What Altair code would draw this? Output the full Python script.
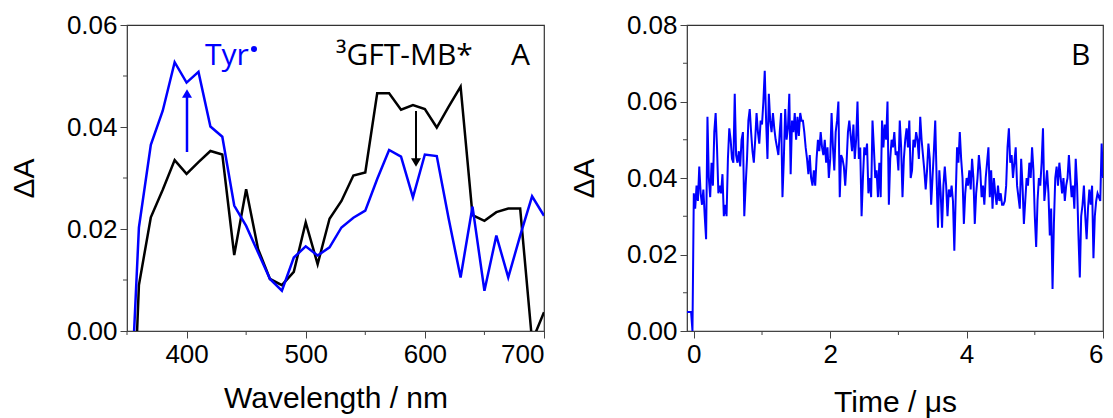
import altair as alt
import pandas as pd
import numpy as np

# ---------------- Panel A: transient spectra ----------------
wavelength = [350, 360, 370, 380, 390, 400, 410, 420, 430, 440, 450, 460,
              470, 480, 490, 500, 510, 520, 530, 540, 550, 560, 570, 580,
              590, 600, 610, 620, 630, 640, 650, 660, 670, 680, 690, 700]
gft_mb = [-0.05, 0.0090, 0.0223, 0.0277, 0.0335, 0.0308, 0.0331, 0.0353,
          0.0346, 0.0149, 0.0278, 0.0161, 0.0102, 0.0090, 0.0116, 0.0213,
          0.0131, 0.0220, 0.0255, 0.0305, 0.0311, 0.0466, 0.0466, 0.0434,
          0.0443, 0.0435, 0.0399, 0.0440, 0.0479, 0.0227, 0.0216, 0.0233,
          0.0240, 0.0240, -0.0020, 0.0037]
tyr = [-0.03, 0.0203, 0.0365, 0.0432, 0.0527, 0.0487, 0.0508, 0.0401,
       0.0381, 0.0246, 0.0206, 0.0154, 0.0102, 0.0079, 0.0144, 0.0166,
       0.0148, 0.0164, 0.0203, 0.0222, 0.0236, 0.0298, 0.0355, 0.0342,
       0.0262, 0.0346, 0.0343, 0.0220, 0.0105, 0.0244, 0.0079, 0.0187,
       0.0105, 0.0187, 0.0264, 0.0226]
xticks_A = [400, 500, 600, 700]
xminor_A = [350, 450, 550, 650]
yticks_A = [0, 0.02, 0.04, 0.06]
yminor_A = [0.01, 0.03, 0.05]

# ---------------- Panel B: kinetic trace (values in 1e-3) ----------------
trace_milli = [
    5, 5, 5, 5, 0,
    36, 32, 38, 34, 43,  36, 33, 37, 30, 24,  56, 40, 35, 44, 38,
    52, 57, 48, 36, 38,  36, 41, 30, 33, 30,  45, 53, 50, 45, 44,
    62, 46, 44, 47, 43,  50, 52, 30, 38, 45,  55, 58, 52, 47, 44,
    50, 57, 52, 49, 55,  54, 60, 68, 55, 45,  62, 55, 52, 57, 53,
    50, 48, 46, 52, 57,  35, 45, 58, 50, 53,  62, 41, 55, 52, 57,
    50, 56, 51, 57, 55,  55, 52, 48, 45, 41,  46, 40, 38, 42, 38,
    45, 50, 47, 52, 48,  46, 50, 44, 48, 40,  45, 57, 48, 42, 52,
    55, 60, 35, 46, 45,  43, 38, 44, 52, 55,  51, 47, 54, 45, 50,
    60, 45, 48, 30, 40,  48, 46, 49, 36, 40,  35, 55, 48, 40, 42,
    35, 44, 35, 55, 48,  54, 50, 60, 33, 45,  50, 48, 52, 46, 47,
    42, 55, 48, 35, 45,  50, 53, 48, 55, 40,  42, 50, 48, 52, 50,
    45, 56, 50, 46, 42,  37, 42, 49, 45, 33,  40, 47, 55, 40, 27,
    42, 36, 27, 38, 43,  38, 30, 37, 35, 38,  34, 21, 35, 48, 44,
    52, 45, 40, 28, 36,  40, 38, 42, 37, 45,  40, 28, 36, 40, 46,
    42, 35, 38, 33, 40,  44, 48, 35, 42, 32,  40, 36, 33, 38, 34,
    36, 33, 33, 34, 38,  48, 53, 44, 46, 40,  44, 48, 38, 35, 32,
    45, 38, 28, 34, 40,  38, 44, 40, 48, 42,  30, 22, 34, 40, 38,
    44, 53, 34, 38, 42,  36, 25, 32, 11, 28,  40, 43, 38, 44, 40,
    36, 40, 34, 38, 40,  46, 40, 35, 38, 32,  45, 38, 25, 14, 30,
    33, 38, 30, 24, 32,  37, 33, 38, 19, 30,  34, 36, 35, 34, 49,
    40,
]
time_us = np.round(np.arange(len(trace_milli)) * 0.02 - 0.1, 2)
xticks_B = [0, 2, 4, 6]
xminor_B = [1, 3, 5]
yticks_B = [0, 0.02, 0.04, 0.06, 0.08]
yminor_B = [0.01, 0.03, 0.05, 0.07]

dfA_black = pd.DataFrame({"wl": wavelength, "dA": gft_mb})
dfA_blue = pd.DataFrame({"wl": wavelength, "dA": tyr})
dfB = pd.DataFrame({"t": time_us, "dA": np.array(trace_milli) / 1000.0})

FONT = "Liberation Sans"
ANNOT_FONT = "Open Sans"
AX = "#444444"
BLUE = "#0000ff"
W_A, W_B, H = 417, 416, 306
MINOR_LEN = 4

major = dict(labelFont=FONT, labelFontSize=26, labelColor="black",
             titleFont=FONT, titleFontSize=30, titleFontWeight="normal",
             titleColor="black", tickSize=7, tickColor=AX, tickWidth=1,
             domainColor=AX, domainWidth=1, grid=False, labelPadding=3)

xA_scale = alt.Scale(domain=[350, 700], nice=False, zero=False)
yA_scale = alt.Scale(domain=[0, 0.06], nice=False)
xB_scale = alt.Scale(domain=[-0.1, 6], nice=False, zero=False)
yB_scale = alt.Scale(domain=[0, 0.08], nice=False)


def y_axis(values):
    return alt.Axis(values=values, format=".2f", title="ΔA", titleX=-94,
                    titleY=H / 2, titleBaseline="alphabetic", **major)


def minor_ticks(field, xvals, yvals, xs, ys):
    dx = pd.DataFrame({field: xvals})
    dy = pd.DataFrame({"dA": yvals})
    tx = alt.Chart(dx).mark_rule(color=AX, strokeWidth=1).encode(
        x=alt.X(f"{field}:Q", scale=xs),
        y=alt.value(H), y2=alt.value(H + MINOR_LEN))
    ty = alt.Chart(dy).mark_rule(color=AX, strokeWidth=1).encode(
        y=alt.Y("dA:Q", scale=ys),
        x=alt.value(0), x2=alt.value(-MINOR_LEN))
    return [tx, ty]


xA = alt.X("wl:Q", scale=xA_scale,
           axis=alt.Axis(values=xticks_A, format="d",
                         title="Wavelength / nm", titleY=76,
                         titleBaseline="alphabetic", **major))
yA = alt.Y("dA:Q", scale=yA_scale, axis=y_axis(yticks_A))

black_line = alt.Chart(dfA_black).mark_line(
    color="black", strokeWidth=2.5, clip=True).encode(x=xA, y=yA)
blue_line = alt.Chart(dfA_blue).mark_line(
    color=BLUE, strokeWidth=2.5, clip=True).encode(x=xA, y=yA)


def label(data, text, x, y, color="black", size=30):
    return alt.Chart(data).mark_text(
        text=text, align="left", baseline="alphabetic", font=ANNOT_FONT,
        fontSize=size, fontWeight="normal", color=color
    ).encode(x=alt.value(x), y=alt.value(y))


one = pd.DataFrame({"k": [0]})
tyr_txt = label(one, "Tyr", 78, 40, color=BLUE)
tyr_dot = alt.Chart(one).mark_point(
    shape="circle", filled=True, size=36, color=BLUE, opacity=1
).encode(x=alt.value(127), y=alt.value(24))
gft_txt = label(one, "³GFT-MB*", 209, 40)
a_txt = label(one, "A", 384, 40)

up_shaft = alt.Chart(one).mark_rule(color=BLUE, strokeWidth=2.5).encode(
    x=alt.value(60), y=alt.value(127), y2=alt.value(70))
up_head = alt.Chart(one).mark_point(
    shape="triangle-up", filled=True, size=100, color=BLUE, opacity=1
).encode(x=alt.value(60), y=alt.value(68.5))
down_shaft = alt.Chart(one).mark_rule(color="black", strokeWidth=2).encode(
    x=alt.value(289), y=alt.value(86), y2=alt.value(136))
down_head = alt.Chart(one).mark_point(
    shape="triangle-down", filled=True, size=100, color="black", opacity=1
).encode(x=alt.value(289), y=alt.value(137.5))

panelA = alt.layer(black_line, blue_line,
                   *minor_ticks("wl", xminor_A, yminor_A, xA_scale, yA_scale),
                   up_shaft, up_head, down_shaft, down_head,
                   tyr_txt, tyr_dot, gft_txt, a_txt
                   ).properties(width=W_A, height=H)

xB = alt.X("t:Q", scale=xB_scale,
           axis=alt.Axis(values=xticks_B, format="d",
                         title="Time / μs", titleY=80,
                         titleBaseline="alphabetic", **major))
yB = alt.Y("dA:Q", scale=yB_scale, axis=y_axis(yticks_B))

trace = alt.Chart(dfB).mark_line(color=BLUE, strokeWidth=2, clip=True
                                  ).encode(x=xB, y=yB)
b_txt = label(one, "B", 384, 40)

panelB = alt.layer(trace,
                   *minor_ticks("t", xminor_B, yminor_B, xB_scale, yB_scale),
                   b_txt).properties(width=W_B, height=H)

chart = alt.hconcat(panelA, panelB, spacing=143, bounds="flush").configure_view(
    stroke="#333333", strokeWidth=1.2
).properties(
    padding={"left": 8, "top": 11, "right": 5, "bottom": 5},
    background="white",
)

chart.save("out.html", embed_options={"renderer": "svg", "actions": False})
